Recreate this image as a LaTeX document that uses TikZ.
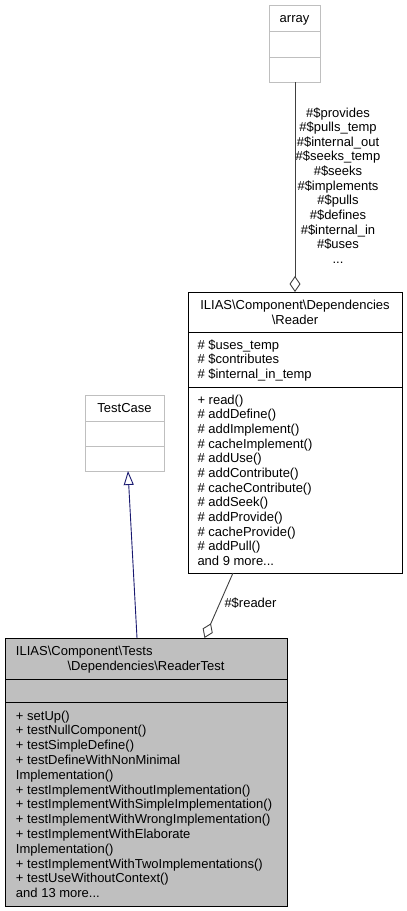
\documentclass[tikz,border=0pt]{standalone}
\usepackage{fontspec}
\setmainfont{Liberation Sans}
\usetikzlibrary{arrows.meta,calc}
\definecolor{lgray}{HTML}{BFBFBF}
\definecolor{edgegray}{HTML}{404040}
\definecolor{navyblue}{HTML}{191970}
\newcommand\mydots{...}
\begin{document}
\begin{tikzpicture}[x=1pt,y=-1pt,
  font=\fontsize{13}{14.65}\selectfont,
  classbox/.style={draw, line width=0.9pt, anchor=north west, inner sep=0pt, outer sep=0pt},
  txt/.style={inner sep=0pt, outer sep=0pt, text=black},
  sepline/.style={line width=0.9pt},
  aggr/.style={draw=edgegray, line width=0.9pt, -{Diamond[open, length=16pt, width=11pt]}},
  gener/.style={draw=navyblue, line width=0.9pt, -{Triangle[open, length=14pt, width=10pt]}}]
\useasboundingbox (0,0) rectangle (407,911);
\fill[white] (0,0) rectangle (407,911);

% array
\node[classbox, draw=lgray, fill=white, minimum width=51pt, minimum height=77pt] (array) at (269,5) {};
\draw[sepline, lgray] (269,31) -- (320,31);
\draw[sepline, lgray] (269,57) -- (320,57);
\node[txt, anchor=base] (arrayname) at (294.5,22.3) {array};

% TestCase
\node[classbox, draw=lgray, fill=white, minimum width=79pt, minimum height=76pt] (testcase) at (85,395) {};
\draw[sepline, lgray] (85,421) -- (164,421);
\draw[sepline, lgray] (85,446) -- (164,446);
\node[txt, anchor=base] (testcasename) at (124.5,412.3) {TestCase};

% Reader
\node[classbox, draw=black, fill=white, minimum width=214pt, minimum height=281pt] (reader) at (188,292) {};
\draw[sepline] (188,332) -- (402,332);
\draw[sepline] (188,387) -- (402,387);
\node[txt, anchor=base] (readername1) at (295,309.3) {ILIAS\textbackslash Component\textbackslash Dependencies};
\node[txt, anchor=base] (readername2) at (295,324) {\textbackslash Reader};
\foreach \t [count=\i from 0] in {{\# \$uses\_temp},{\# \$contributes},{\# \$internal\_in\_temp}}
  \node[txt, anchor=base west] (rf\i) at (197.5,349.3+14.65*\i) {\t};
\foreach \t [count=\i from 0] in {{+ read()},{\# addDefine()},{\# addImplement()},{\# cacheImplement()},{\# addUse()},{\# addContribute()},{\# cacheContribute()},{\# addSeek()},{\# addProvide()},{\# cacheProvide()},{\# addPull()},{and 9 more\mydots}}
  \node[txt, anchor=base west] (rm\i) at (197.5,404.3+14.65*\i) {\t};

% ReaderTest
\node[classbox, draw=black, fill=lgray, minimum width=282pt, minimum height=268pt] (readertest) at (5,638) {};
\draw[sepline] (5,679) -- (287,679);
\draw[sepline] (5,702.5) -- (287,702.5);
\node[txt, anchor=base west] (rtname1) at (16,655.3) {ILIAS\textbackslash Component\textbackslash Tests};
\node[txt, anchor=base] (rtname2) at (146,670) {\textbackslash Dependencies\textbackslash ReaderTest};
\foreach \t [count=\i from 0] in {{+ setUp()},{+ testNullComponent()},{+ testSimpleDefine()},{+ testDefineWithNonMinimal},{Implementation()},{+ testImplementWithoutImplementation()},{+ testImplementWithSimpleImplementation()},{+ testImplementWithWrongImplementation()},{+ testImplementWithElaborate},{Implementation()},{+ testImplementWithTwoImplementations()},{+ testUseWithoutContext()},{and 13 more\mydots}}
  \node[txt, anchor=base west] (tm\i) at (16,720+14.8*\i) {\t};

% connectors
\draw[aggr] (array.south -| reader.north) -- (reader.north);
\draw[aggr] ($(reader.south west)+(45,0)$) -- ($(readertest.north west)+(199.5,0)$);
\node[txt, anchor=base west] (readerlabel) at (224.5,607.5) {\#\$reader};
\draw[gener] ($(readertest.north west)+(132,0)$) -- ($(testcase.south west)+(43,0)$);
\foreach \t [count=\i from 0] in {{\#\$provides},{\#\$pulls\_temp},{\#\$internal\_out},{\#\$seeks\_temp},{\#\$seeks},{\#\$implements},{\#\$pulls},{\#\$defines},{\#\$internal\_in},{\#\$uses},{\mydots}}
  \node[txt, anchor=base] (al\i) at (338,117+14.65*\i) {\t};
\end{tikzpicture}
\end{document}
